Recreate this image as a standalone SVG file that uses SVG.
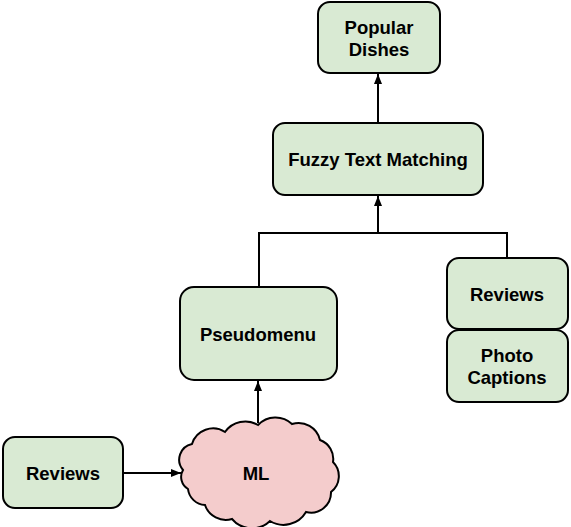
<svg xmlns="http://www.w3.org/2000/svg" width="571" height="527" viewBox="0 0 571 527">
<defs>
<marker id="arr" viewBox="0 0 10 10" refX="10" refY="5" markerWidth="10" markerHeight="10" markerUnits="userSpaceOnUse" orient="auto">
<path d="M0,1 L10,5 L0,9 Z" fill="#000"/>
</marker>
<style>
.box{fill:#d9ead3;stroke:#000;stroke-width:2}
.cloud{fill:#f4cccc;stroke:#000;stroke-width:2}
.t{font-family:"Liberation Sans",Arial,sans-serif;font-weight:bold;font-size:18.5px;fill:#000;text-anchor:middle}
.c{fill:none;stroke:#000;stroke-width:2}
</style>
</defs>
<rect width="571" height="527" fill="#fff"/>
<g id="connectors">
<path class="c" d="M378,123 L378,74" marker-end="url(#arr)"/>
<path class="c" d="M259,287 L259,233 L507,233 L507,258"/>
<path class="c" d="M378,233 L378,196" marker-end="url(#arr)"/>
<path class="c" d="M258,423 L258,381" marker-end="url(#arr)"/>
<path class="c" d="M123,473 L181,473" marker-end="url(#arr)"/>
</g>
<g id="popular">
<rect class="box" x="318" y="2" width="122" height="71" rx="12"/>
<text class="t" x="379" y="34">Popular</text>
<text class="t" x="379" y="56">Dishes</text>
</g>
<g id="fuzzy">
<rect class="box" x="273" y="123" width="210" height="72" rx="12"/>
<text class="t" x="378" y="166">Fuzzy Text Matching</text>
</g>
<g id="pseudomenu">
<rect class="box" x="180" y="287" width="157" height="93" rx="14"/>
<text class="t" x="258" y="341">Pseudomenu</text>
</g>
<g id="reviews-right">
<rect class="box" x="447" y="258" width="121" height="71" rx="12"/>
<text class="t" x="507" y="301">Reviews</text>
</g>
<g id="photo-captions">
<rect class="box" x="447" y="330" width="121" height="72" rx="12"/>
<text class="t" x="507" y="362">Photo</text>
<text class="t" x="507" y="384">Captions</text>
</g>
<g id="reviews-left">
<rect class="box" x="3" y="437" width="120" height="71" rx="12"/>
<text class="t" x="63" y="480">Reviews</text>
</g>
<g id="ml">
<path class="cloud" d="M183,470 A16,16 0 0 1 192,444 A22,22 0 0 1 225,432 A25,25 0 0 1 258,425 A24,24 0 0 1 292,424 A22,22 0 0 1 320,440 A20,20 0 0 1 333,462 A20,20 0 0 1 331,492 A20,20 0 0 1 306,512 A26,26 0 0 1 270,521 A26,26 0 0 1 232,519 A22,22 0 0 1 205,505 A18,18 0 0 1 188,489 A14,14 0 0 1 183,470 Z"/>
<text class="t" x="256" y="480">ML</text>
</g>
</svg>
